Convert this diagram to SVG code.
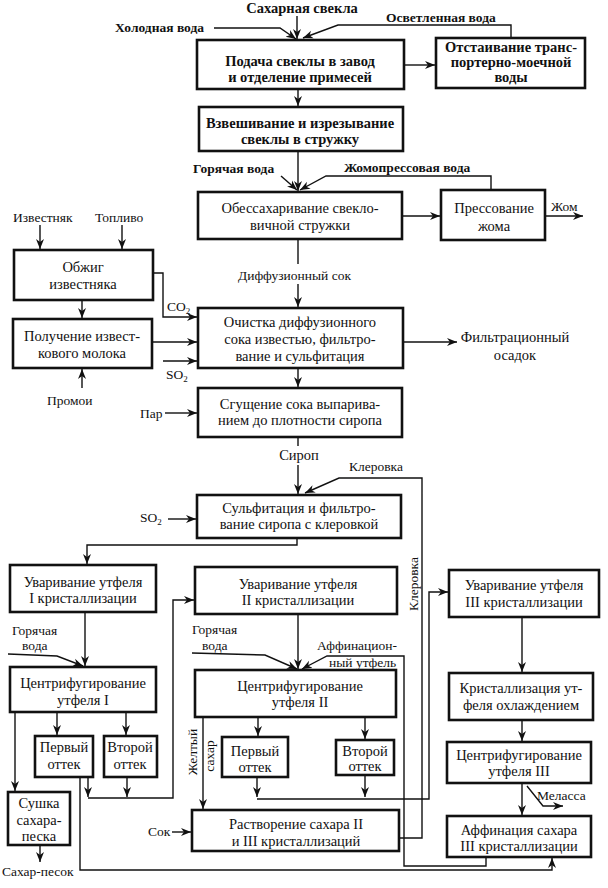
<svg xmlns="http://www.w3.org/2000/svg" width="608" height="888" viewBox="0 0 608 888">
<defs>
<style>
.bx{fill:none;stroke:#111;stroke-width:2.6}
.ln{fill:none;stroke:#111;stroke-width:1.4}
.t{font-family:"Liberation Serif","DejaVu Serif",serif;font-size:14.5px;fill:#111;text-anchor:middle}
.s{font-family:"Liberation Serif","DejaVu Serif",serif;font-size:13.5px;fill:#111}
.b{font-weight:bold}
</style>
<marker id="a" viewBox="0 0 10 10" refX="10" refY="5" markerWidth="10" markerHeight="10" markerUnits="userSpaceOnUse" orient="auto">
<path d="M0,1 L10,5 L0,9 L3,5 z" fill="#111"/>
</marker>
</defs>
<rect width="608" height="888" fill="#fff"/>

<g id="connectors">
<path class="ln" d="M297,16 L297,39" marker-end="url(#a)"/>
<path class="ln" d="M214,28 L280,28 L296,39" marker-end="url(#a)"/>
<path class="ln" d="M511,38 L511,25 L338,25 L303,38" marker-end="url(#a)"/>
<path class="ln" d="M404,65 L435,65" marker-end="url(#a)"/>
<path class="ln" d="M298,89 L298,106" marker-end="url(#a)"/>
<path class="ln" d="M298,151 L298,191" marker-end="url(#a)"/>
<path class="ln" d="M281,176 L297,190" marker-end="url(#a)"/>
<path class="ln" d="M491,190 L491,176 L326,176 L300,190" marker-end="url(#a)"/>
<path class="ln" d="M402,216 L440,216" marker-end="url(#a)"/>
<path class="ln" d="M545,216 L583,216" marker-end="url(#a)"/>
<path class="ln" d="M298,239 L298,264"/>
<path class="ln" d="M298,284 L298,307" marker-end="url(#a)"/>
<path class="ln" d="M40,225 L40,249" marker-end="url(#a)"/>
<path class="ln" d="M122,225 L122,249" marker-end="url(#a)"/>
<path class="ln" d="M82,300 L82,318" marker-end="url(#a)"/>
<path class="ln" d="M153,273 L163,273 L163,317 L197,317" marker-end="url(#a)"/>
<path class="ln" d="M152,342 L197,342" marker-end="url(#a)"/>
<path class="ln" d="M163,361 L197,361" marker-end="url(#a)"/>
<path class="ln" d="M82,388 L82,369" marker-end="url(#a)"/>
<path class="ln" d="M403,342 L457,342" marker-end="url(#a)"/>
<path class="ln" d="M298,368 L298,387" marker-end="url(#a)"/>
<path class="ln" d="M165,413 L197,413" marker-end="url(#a)"/>
<path class="ln" d="M298,437 L298,446"/>
<path class="ln" d="M298,465 L298,494" marker-end="url(#a)"/>
<path class="ln" d="M399,838 L422,838 L422,478 L339,478 L305,493" marker-end="url(#a)"/>
<path class="ln" d="M168,519 L196,519" marker-end="url(#a)"/>
<path class="ln" d="M297,538 L297,545 L87,545 L87,564" marker-end="url(#a)"/>
<path class="ln" d="M85,612 L85,666" marker-end="url(#a)"/>
<path class="ln" d="M8,654 L57,656 L83,666" marker-end="url(#a)"/>
<path class="ln" d="M57,712 L57,735" marker-end="url(#a)"/>
<path class="ln" d="M126,712 L126,735" marker-end="url(#a)"/>
<path class="ln" d="M15,712 L15,791" marker-end="url(#a)"/>
<path class="ln" d="M40,845 L40,862" marker-end="url(#a)"/>
<path class="ln" d="M80,777 L80,870 L552,870 L552,858" marker-end="url(#a)"/>
<path class="ln" d="M88,777 L88,797" marker-end="url(#a)"/>
<path class="ln" d="M127,777 L127,797" marker-end="url(#a)"/>
<path class="ln" d="M88,798 L173,798 L173,600 L194,600" marker-end="url(#a)"/>
<path class="ln" d="M298,614 L298,669" marker-end="url(#a)"/>
<path class="ln" d="M192,653 L265,655 L297,669" marker-end="url(#a)"/>
<path class="ln" d="M486,857 L486,866 L404,866 L404,656 L327,656 L302,669" marker-end="url(#a)"/>
<path class="ln" d="M258,717 L258,736" marker-end="url(#a)"/>
<path class="ln" d="M365,717 L365,739" marker-end="url(#a)"/>
<path class="ln" d="M203,717 L203,809" marker-end="url(#a)"/>
<path class="ln" d="M257,777 L257,797" marker-end="url(#a)"/>
<path class="ln" d="M365,775 L365,797" marker-end="url(#a)"/>
<path class="ln" d="M257,799 L429,799 L429,592 L448,592" marker-end="url(#a)"/>
<path class="ln" d="M522,617 L522,672" marker-end="url(#a)"/>
<path class="ln" d="M522,720 L522,741" marker-end="url(#a)"/>
<path class="ln" d="M522,783 L522,815" marker-end="url(#a)"/>
<path class="ln" d="M527,786 L543,806 L563,806" marker-end="url(#a)"/>
<path class="ln" d="M172,832 L191,832" marker-end="url(#a)"/>
</g>

<g id="labels">
<text class="t b" x="302" y="13">Сахарная свекла</text>
<text class="s b" x="115" y="32">Холодная вода</text>
<text class="s b" x="386" y="22">Осветленная вода</text>
<text class="s b" x="193" y="173">Горячая вода</text>
<text class="s b" x="344" y="172">Жомопрессовая вода</text>
<text class="s" x="551" y="211">Жом</text>
<text class="s" x="238" y="280">Диффузионный сок</text>
<text class="s" x="13" y="222">Известняк</text>
<text class="s" x="95" y="222">Топливо</text>
<text class="s" x="167" y="311">CO<tspan font-size="9" dy="3">2</tspan></text>
<text class="s" x="166" y="379">SO<tspan font-size="9" dy="3">2</tspan></text>
<text class="s" x="47" y="405">Промои</text>
<text class="t" x="515" y="342">Фильтрационный</text>
<text class="t" x="515" y="360">осадок</text>
<text class="s" x="140" y="418">Пар</text>
<text class="t" x="299" y="460">Сироп</text>
<text class="s" x="349" y="471">Клеровка</text>
<text class="s" x="140" y="522">SO<tspan font-size="9" dy="3">2</tspan></text>
<text class="s" x="418" y="584" text-anchor="middle" transform="rotate(-90 418 584)">Клеровка</text>
<text class="s" x="12" y="635">Горячая</text>
<text class="s" x="22" y="650">вода</text>
<text class="s" x="192" y="634">Горячая</text>
<text class="s" x="202" y="650">вода</text>
<text class="s" x="317" y="650">Аффинацион-</text>
<text class="s" x="329" y="667">ный утфель</text>
<text class="s" x="197" y="752" text-anchor="middle" transform="rotate(-90 197 752)">Желтый</text>
<text class="s" x="214" y="756" text-anchor="middle" transform="rotate(-90 214 756)">сахар</text>
<text class="s" x="537" y="800">Меласса</text>
<text class="s" x="148" y="836">Сок</text>
<text class="s" x="2" y="876">Сахар-песок</text>
</g>

<g id="n1"><rect class="bx" x="197" y="40" width="207" height="49"/>
<text class="t b" x="300" y="66">Подача свеклы в завод</text><text class="t b" x="300" y="82">и отделение примесей</text></g>
<g id="n2"><rect class="bx" x="436" y="38" width="149" height="50"/>
<text class="t b" x="511" y="52">Отстаивание транс-</text><text class="t b" x="511" y="67">портерно-моечной</text><text class="t b" x="511" y="82">воды</text></g>
<g id="n3"><rect class="bx" x="199" y="107" width="204" height="44"/>
<text class="t b" x="300" y="128">Взвешивание и изрезывание</text><text class="t b" x="300" y="144">свеклы в стружку</text></g>
<g id="n4"><rect class="bx" x="198" y="192" width="204" height="47"/>
<text class="t" x="300" y="213">Обессахаривание свекло-</text><text class="t" x="300" y="230">вичной стружки</text></g>
<g id="n5"><rect class="bx" x="441" y="190" width="104" height="50"/>
<text class="t" x="494" y="213">Прессование</text><text class="t" x="494" y="231">жома</text></g>
<g id="n6"><rect class="bx" x="14" y="250" width="139" height="50"/>
<text class="t" x="83" y="272">Обжиг</text><text class="t" x="83" y="289">известняка</text></g>
<g id="n7"><rect class="bx" x="13" y="319" width="139" height="49"/>
<text class="t" x="82" y="341">Получение извест-</text><text class="t" x="82" y="358">кового молока</text></g>
<g id="n8"><rect class="bx" x="198" y="308" width="205" height="60"/>
<text class="t" x="300" y="327">Очистка диффузионного</text><text class="t" x="300" y="344">сока известью, фильтро-</text><text class="t" x="300" y="361">вание и сульфитация</text></g>
<g id="n9"><rect class="bx" x="198" y="388" width="204" height="49"/>
<text class="t" x="300" y="409">Сгущение сока выпарива-</text><text class="t" x="300" y="425">нием до плотности сиропа</text></g>
<g id="n10"><rect class="bx" x="197" y="495" width="204" height="43"/>
<text class="t" x="299" y="513">Сульфитация и фильтро-</text><text class="t" x="299" y="529">вание сиропа с клеровкой</text></g>
<g id="n11"><rect class="bx" x="10" y="565" width="146" height="47"/>
<text class="t" x="83" y="587">Уваривание утфеля</text><text class="t" x="83" y="603">I кристаллизации</text></g>
<g id="n12"><rect class="bx" x="195" y="567" width="202" height="47"/>
<text class="t" x="298" y="589">Уваривание утфеля</text><text class="t" x="298" y="605">II кристаллизации</text></g>
<g id="n13"><rect class="bx" x="449" y="570" width="150" height="47"/>
<text class="t" x="524" y="590">Уваривание утфеля</text><text class="t" x="524" y="607">III кристаллизации</text></g>
<g id="n14"><rect class="bx" x="10" y="667" width="146" height="45"/>
<text class="t" x="83" y="688">Центрифугирование</text><text class="t" x="83" y="705">утфеля I</text></g>
<g id="n15"><rect class="bx" x="195" y="670" width="201" height="47"/>
<text class="t" x="300" y="691">Центрифугирование</text><text class="t" x="300" y="707">утфеля II</text></g>
<g id="n16"><rect class="bx" x="449" y="673" width="144" height="47"/>
<text class="t" x="521" y="693">Кристаллизация ут-</text><text class="t" x="521" y="710">феля охлаждением</text></g>
<g id="n17"><rect class="bx" x="35" y="736" width="58" height="41"/>
<text class="t" x="64" y="752">Первый</text><text class="t" x="64" y="769">оттек</text></g>
<g id="n18"><rect class="bx" x="104" y="736" width="53" height="41"/>
<text class="t" x="130" y="752">Второй</text><text class="t" x="130" y="769">оттек</text></g>
<g id="n19"><rect class="bx" x="222" y="737" width="66" height="40"/>
<text class="t" x="255" y="756">Первый</text><text class="t" x="255" y="772">оттек</text></g>
<g id="n20"><rect class="bx" x="336" y="740" width="58" height="35"/>
<text class="t" x="365" y="756">Второй</text><text class="t" x="365" y="771">оттек</text></g>
<g id="n21"><rect class="bx" x="447" y="742" width="144" height="41"/>
<text class="t" x="519" y="760">Центрифугирование</text><text class="t" x="519" y="776">утфеля III</text></g>
<g id="n22"><rect class="bx" x="8" y="792" width="62" height="53"/>
<text class="t" x="39" y="808">Сушка</text><text class="t" x="39" y="825">сахара-</text><text class="t" x="39" y="841">песка</text></g>
<g id="n23"><rect class="bx" x="192" y="810" width="207" height="41"/>
<text class="t" x="296" y="829">Растворение сахара II</text><text class="t" x="296" y="846">и III кристаллизаций</text></g>
<g id="n24"><rect class="bx" x="447" y="816" width="144" height="41"/>
<text class="t" x="519" y="835">Аффинация сахара</text><text class="t" x="519" y="851">III кристаллизации</text></g>
</svg>
